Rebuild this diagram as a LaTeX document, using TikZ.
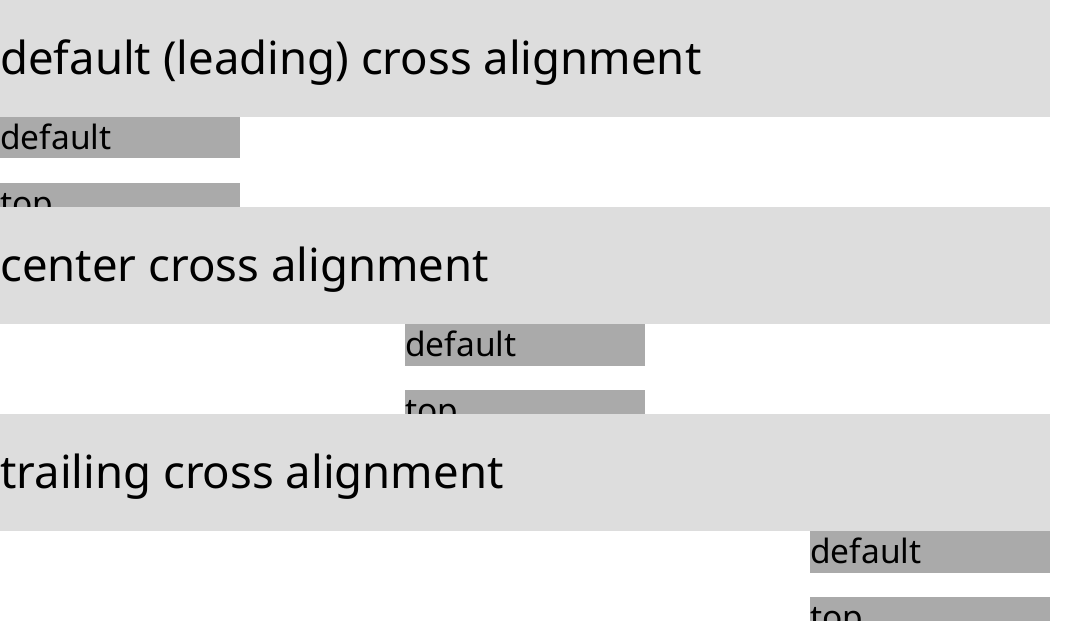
\documentclass[tikz,border=0pt]{standalone}
\usepackage{fontspec}
\setmainfont{Noto Sans}
\definecolor{band}{HTML}{DDDDDD}
\definecolor{box}{HTML}{AAAAAA}
\begin{document}
\begin{tikzpicture}[x=1pt,y=-1pt,
  title/.style={anchor=base west,inner sep=0pt,font=\fontsize{45.5}{45.5}\selectfont},
  small/.style={anchor=base west,inner sep=0pt,font=\fontsize{33.5}{33.5}\selectfont}]
\useasboundingbox (0,0) rectangle (1080,621);
% band 1
\fill[band] (0,0) rectangle (1050,117);
\node[title] (t1) at (0,74) {default (leading) cross alignment};
\fill[box] (0,117) rectangle (240,158);
\node[small] (d1) at (0,149) {default};
\begin{scope}
\clip (0,183) rectangle (240,207);
\fill[box] (0,183) rectangle (240,224);
\node[small] (p1) at (0,215) {top};
\end{scope}
% band 2
\fill[band] (0,207) rectangle (1050,324);
\node[title] (t2) at (0,281) {center cross alignment};
\fill[box] (405,324) rectangle (645,366);
\node[small] (d2) at (405,356) {default};
\begin{scope}
\clip (405,390) rectangle (645,414);
\fill[box] (405,390) rectangle (645,431);
\node[small] (p2) at (405,422) {top};
\end{scope}
% band 3
\fill[band] (0,414) rectangle (1050,531);
\node[title] (t3) at (0,488) {trailing cross alignment};
\fill[box] (810,531) rectangle (1050,573);
\node[small] (d3) at (810,563) {default};
\begin{scope}
\clip (810,597) rectangle (1050,621);
\fill[box] (810,597) rectangle (1050,638);
\node[small] (p3) at (810,629) {top};
\end{scope}
\end{tikzpicture}
\end{document}
